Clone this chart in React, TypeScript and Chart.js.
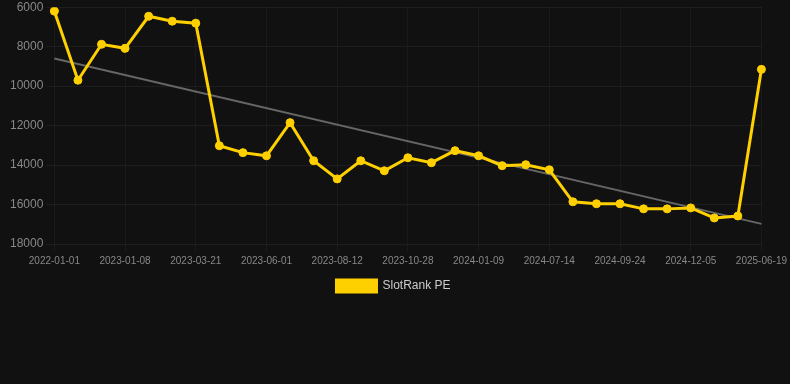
import React, { useEffect, useRef } from "react";
import { Chart, registerables } from "chart.js";

Chart.register(...registerables);

const dates = [
  "2022-01-01", "2022-11-21", "2022-12-15",
  "2023-01-08", "2023-02-01", "2023-02-25",
  "2023-03-21", "2023-04-14", "2023-05-08",
  "2023-06-01", "2023-06-25", "2023-07-19",
  "2023-08-12", "2023-09-07", "2023-10-03",
  "2023-10-28", "2023-11-21", "2023-12-16",
  "2024-01-09", "2024-02-02", "2024-06-20",
  "2024-07-14", "2024-08-07", "2024-08-31",
  "2024-09-24", "2024-10-18", "2024-11-11",
  "2024-12-05", "2024-12-29", "2025-01-22",
  "2025-06-19",
];

const rankValues = [
  6200, 9700, 7880, 8085, 6460, 6710, 6810, 13020, 13370, 13530,
  11850, 13780, 14700, 13780, 14290, 13630, 13880, 13270, 13530, 14030,
  13980, 14240, 15860, 15960, 15960, 16220, 16220, 16170, 16680, 16580,
  9150,
];

const trendStart = 8600;
const trendEnd = 16980;

const yTicks = [6000, 8000, 10000, 12000, 14000, 16000, 18000];

export default function App() {
  const ref = useRef<HTMLCanvasElement>(null);

  useEffect(() => {
    if (!ref.current) return;
    const trend = dates.map((_, i) =>
      i === 0 ? trendStart : i === dates.length - 1 ? trendEnd : null
    );
    const font = "Arial, 'Liberation Sans', Helvetica, sans-serif";
    const chart = new Chart(ref.current, {
      type: "line",
      data: {
        labels: dates,
        datasets: [
          {
            label: "SlotRank PE",
            data: rankValues,
            borderColor: "#FFD000",
            backgroundColor: "#FFD000",
            borderWidth: 3,
            pointRadius: 4,
            pointBorderWidth: 1,
            pointBackgroundColor: "#FFD000",
            pointBorderColor: "#FFD000",
            tension: 0,
            order: 1,
          },
          {
            label: "trend",
            data: trend,
            borderColor: "#666666",
            backgroundColor: "#666666",
            borderWidth: 2,
            pointRadius: 0,
            spanGaps: true,
            order: 2,
          },
        ],
      },
      options: {
        animation: false,
        responsive: true,
        maintainAspectRatio: false,
        layout: { padding: { left: 7, right: 10, top: 0, bottom: 0 } },
        plugins: {
          legend: {
            position: "bottom",
            labels: {
              color: "#cccccc",
              font: { family: font, size: 12 },
              boxWidth: 40,
              boxHeight: 12,
              filter: (item) => item.text !== "trend",
            },
          },
          tooltip: { enabled: false },
        },
        scales: {
          x: {
            grid: { color: "rgba(255,255,255,0.04)" },
            border: { display: false },
            ticks: {
              color: "#888888",
              font: { family: font, size: 10 },
              maxRotation: 0,
              autoSkip: false,
              callback: function (value, index) {
                return index % 3 === 0 ? dates[index] : null;
              },
            },
          },
          y: {
            reverse: true,
            min: yTicks[0],
            max: yTicks[yTicks.length - 1],
            grid: { color: "rgba(255,255,255,0.05)" },
            border: { display: false },
            afterBuildTicks: (axis) => {
              axis.ticks = yTicks.map((v) => ({ value: v }));
            },
            ticks: {
              color: "#888888",
              font: { family: font, size: 12 },
              callback: (v) => String(v),
            },
          },
        },
      },
    });
    return () => chart.destroy();
  }, []);

  return (
    <div
      style={{
        position: "fixed",
        left: 0,
        top: 0,
        width: 790,
        height: 384,
        background: "#111111",
        overflow: "hidden",
      }}
    >
      <div style={{ position: "absolute", left: 0, top: -3, width: 790, height: 305 }}>
        <canvas ref={ref} />
      </div>
    </div>
  );
}
